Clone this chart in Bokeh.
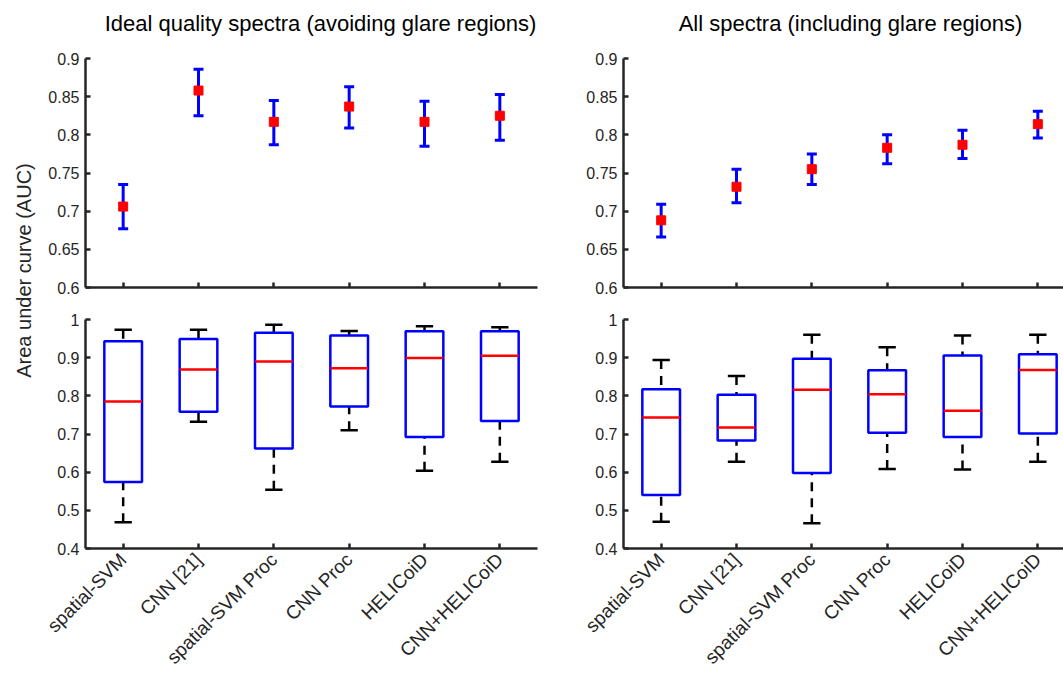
import math
from bokeh.plotting import figure
from bokeh.layouts import row, column
from bokeh.models import FixedTicker, ColumnDataSource, Range1d
from bokeh.core.properties import value
from bokeh.embed import file_html
from bokeh.resources import INLINE

# ---------------- data ----------------
methods = ["spatial-SVM", "CNN [21]", "spatial-SVM Proc", "CNN Proc", "HELICoiD", "CNN+HELICoiD"]
xpos = [1, 2, 3, 4, 5, 6]

title_left = "Ideal quality spectra (avoiding glare regions)"
title_right = "All spectra (including glare regions)"
y_label = "Area under curve (AUC)"

ideal_mean = [0.706, 0.858, 0.817, 0.837, 0.817, 0.825]
ideal_hi = [0.735, 0.886, 0.845, 0.863, 0.844, 0.853]
ideal_lo = [0.677, 0.825, 0.787, 0.809, 0.785, 0.793]

all_mean = [0.688, 0.732, 0.755, 0.783, 0.787, 0.814]
all_hi = [0.709, 0.755, 0.775, 0.800, 0.806, 0.831]
all_lo = [0.666, 0.711, 0.735, 0.762, 0.769, 0.796]

ideal_wlo = [0.469, 0.732, 0.554, 0.710, 0.604, 0.627]
ideal_q1 = [0.574, 0.758, 0.662, 0.772, 0.692, 0.734]
ideal_med = [0.785, 0.869, 0.890, 0.872, 0.899, 0.905]
ideal_q3 = [0.943, 0.949, 0.965, 0.958, 0.969, 0.969]
ideal_whi = [0.973, 0.973, 0.986, 0.970, 0.982, 0.980]

all_wlo = [0.470, 0.627, 0.466, 0.608, 0.607, 0.627]
all_q1 = [0.540, 0.683, 0.598, 0.703, 0.692, 0.701]
all_med = [0.743, 0.717, 0.816, 0.804, 0.761, 0.868]
all_q3 = [0.817, 0.803, 0.897, 0.867, 0.906, 0.909]
all_whi = [0.894, 0.852, 0.960, 0.927, 0.958, 0.960]

top_ticks = [0.6, 0.65, 0.7, 0.75, 0.8, 0.85, 0.9]
top_tick_labels = ["0.6", "0.65", "0.7", "0.75", "0.8", "0.85", "0.9"]
bot_ticks = [0.4, 0.5, 0.6, 0.7, 0.8, 0.9, 1.0]
bot_tick_labels = ["0.4", "0.5", "0.6", "0.7", "0.8", "0.9", "1"]

# ---------------- styling ----------------
FONT = "Liberation Sans"
AX = "#262626"
FRAME_W = 452
FRAME_H = 229
UNIT = FRAME_W / 6.0
RIGHT_FRAME_W = 440
LEFT_B = 47
MID_B = 39
TITLE_H = 50
TOP_GAP = 8


def style(p, yticks, ylabels, show_x):
    p.outline_line_color = None
    p.xgrid.visible = False
    p.ygrid.visible = False
    p.background_fill_color = "white"
    p.border_fill_color = "white"
    for ax in (p.xaxis[0], p.yaxis[0]):
        ax.axis_line_color = AX
        ax.axis_line_width = 2.5
        ax.major_tick_line_color = AX
        ax.major_tick_line_width = 2.5
        ax.major_tick_in = 5
        ax.major_tick_out = 0
        ax.minor_tick_line_color = None
        ax.major_label_text_font = FONT
        ax.major_label_text_color = AX
    p.yaxis[0].ticker = FixedTicker(ticks=yticks)
    p.yaxis[0].major_label_overrides = {t: l for t, l in zip(yticks, ylabels)}
    p.yaxis[0].major_label_text_font_size = "16px"
    p.yaxis[0].major_label_standoff = 6
    p.xaxis[0].ticker = FixedTicker(ticks=xpos)
    if show_x:
        p.xaxis[0].major_label_overrides = {x: m for x, m in zip(xpos, methods)}
        p.xaxis[0].major_label_orientation = math.pi / 4
        p.xaxis[0].major_label_text_font_size = "19px"
        p.xaxis[0].major_label_standoff = 8
    else:
        p.xaxis[0].major_label_overrides = {x: "" for x in xpos}
        p.xaxis[0].major_label_standoff = 0


def title_panel(text, left, right, fw, cx):
    t = figure(frame_width=fw, frame_height=TITLE_H, x_range=Range1d(0, fw),
               y_range=Range1d(0, TITLE_H), min_border_left=left, min_border_right=right,
               min_border_top=0, min_border_bottom=0, x_axis_type=None, y_axis_type=None,
               toolbar_location=None, output_backend="svg")
    t.outline_line_color = None
    t.grid.visible = False
    t.background_fill_color = "white"
    t.border_fill_color = "white"
    t.text(x=[cx], y=[TITLE_H - 23], text=[text], text_align="center",
           text_baseline="middle", text_font=value(FONT), text_font_size="22px",
           text_color="black")
    return t


def top_panel(mean, hi, lo, left, right, fw, xend):
    p = figure(frame_width=fw, frame_height=FRAME_H,
               x_range=Range1d(0.5, xend), y_range=Range1d(0.6, 0.9),
               min_border_left=left, min_border_right=right,
               min_border_top=TOP_GAP, min_border_bottom=16,
               output_backend="svg", toolbar_location=None)
    style(p, top_ticks, top_tick_labels, False)
    src = ColumnDataSource(dict(x=xpos, m=mean, hi=hi, lo=lo))
    p.segment(x0="x", y0="lo", x1="x", y1="hi", source=src, line_color="blue", line_width=3)
    p.scatter("x", "hi", source=src, marker="dash", size=10, line_color="blue", line_width=3)
    p.scatter("x", "lo", source=src, marker="dash", size=10, line_color="blue", line_width=3)
    p.scatter("x", "m", source=src, marker="square", size=9, fill_color="red", line_color="red")
    return p


def box_panel(wlo, q1, med, q3, whi, left, right, fw, xend):
    p = figure(frame_width=fw, frame_height=FRAME_H,
               x_range=Range1d(0.5, xend), y_range=Range1d(0.4, 1.0),
               min_border_left=left, min_border_right=right,
               min_border_top=16, min_border_bottom=110,
               output_backend="svg", toolbar_location=None)
    style(p, bot_ticks, bot_tick_labels, True)
    hw = 0.25
    cw = 0.115
    src = ColumnDataSource(dict(
        x=xpos, l=[x - hw for x in xpos], r=[x + hw for x in xpos],
        cl=[x - cw for x in xpos], cr=[x + cw for x in xpos],
        wlo=wlo, q1=q1, med=med, q3=q3, whi=whi))
    # whiskers (dashed)
    p.segment(x0="x", y0="wlo", x1="x", y1="q1", source=src, line_color="black",
              line_width=2.5, line_dash="9 7")
    p.segment(x0="x", y0="whi", x1="x", y1="q3", source=src, line_color="black",
              line_width=2.5, line_dash="9 7")
    # caps
    p.segment(x0="cl", y0="wlo", x1="cr", y1="wlo", source=src, line_color="black", line_width=2.5)
    p.segment(x0="cl", y0="whi", x1="cr", y1="whi", source=src, line_color="black", line_width=2.5)
    # boxes
    p.quad(left="l", right="r", bottom="q1", top="q3", source=src, fill_color=None,
           line_color="blue", line_width=2.5)
    # medians
    p.segment(x0="l", y0="med", x1="r", y1="med", source=src, line_color="red", line_width=2.5)
    return p


right_xend = 0.5 + RIGHT_FRAME_W / UNIT

ttl = title_panel(title_left, LEFT_B, MID_B, FRAME_W, 235)
ttr = title_panel(title_right, LEFT_B, 0, RIGHT_FRAME_W, 227)
tl = top_panel(ideal_mean, ideal_hi, ideal_lo, LEFT_B, MID_B, FRAME_W, 6.5)
bl = box_panel(ideal_wlo, ideal_q1, ideal_med, ideal_q3, ideal_whi, LEFT_B, MID_B, FRAME_W, 6.5)
tr = top_panel(all_mean, all_hi, all_lo, LEFT_B, 0, RIGHT_FRAME_W, right_xend)
br = box_panel(all_wlo, all_q1, all_med, all_q3, all_whi, LEFT_B, 0, RIGHT_FRAME_W, right_xend)

# y-axis label panel
LAB_W = 38
LAB_H = 660
lab = figure(frame_width=LAB_W, frame_height=LAB_H, x_range=Range1d(0, LAB_W), y_range=Range1d(0, LAB_H),
             min_border=0, x_axis_type=None, y_axis_type=None, toolbar_location=None,
             output_backend="svg")
lab.outline_line_color = None
lab.grid.visible = False
lab.text(x=[23], y=[LAB_H - 270], text=[y_label], angle=math.pi / 2,
         text_align="center", text_baseline="middle", text_font=value(FONT),
         text_font_size="20px", text_color=AX)

layout = row(lab, column(ttl, tl, bl), column(ttr, tr, br))

open("out.html", "w").write(file_html(layout, INLINE))
